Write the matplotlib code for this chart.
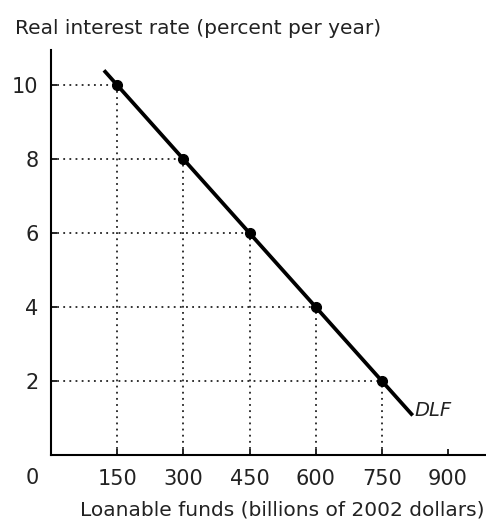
import matplotlib.pyplot as plt

# points on the demand for loanable funds curve
funds = [150, 300, 450, 600, 750]
rates = [10, 8, 6, 4, 2]

# ends of the DLF line
line_funds = [120, 820]
line_rates = [10.4, 1.07]

x_ticks = [150, 300, 450, 600, 750, 900]
y_ticks = [2, 4, 6, 8, 10]

text_color = '#222222'

fig = plt.figure(figsize=(4.86, 5.25), dpi=100)
ax = fig.add_axes([0.105, 0.1333, 0.893, 0.7715])

# dotted guides from the axes to each point
for f, r in zip(funds, rates):
    ax.plot([0, f], [r, r], linestyle=(0, (1, 2.4)), color='#222222', linewidth=1.3)
    ax.plot([f, f], [0, r], linestyle=(0, (1, 2.4)), color='#222222', linewidth=1.3)

ax.plot(line_funds, line_rates, color='black', linewidth=2.7, solid_capstyle='butt')
ax.plot(funds, rates, 'o', color='black', markersize=7)
ax.text(825, 1.2, 'DLF', fontsize=14, style='italic', color=text_color,
        ha='left', va='center')

ax.set_xlim(0, 984)
ax.set_ylim(0, 10.95)
ax.set_xticks(x_ticks)
ax.set_yticks(y_ticks)
ax.tick_params(direction='in', length=4, width=1.2, labelsize=15,
               labelcolor=text_color, pad=10)
ax.tick_params(axis='y', pad=9)
for side in ['top', 'right']:
    ax.spines[side].set_visible(False)
for side in ['left', 'bottom']:
    ax.spines[side].set_linewidth(1.5)

# origin label sits to the left of the axis
ax.text(-19 / 0.44, -0.62, '0', fontsize=15, color=text_color,
        ha='center', va='center', clip_on=False)

fig.text(15 / 486, 1 - 28 / 525, 'Real interest rate (percent per year)',
         fontsize=14.5, color=text_color, ha='left', va='center')
fig.text(484 / 486, 1 - 510 / 525, 'Loanable funds (billions of 2002 dollars)',
         fontsize=14.5, color=text_color, ha='right', va='center')

fig.savefig('out.png', dpi=100)
